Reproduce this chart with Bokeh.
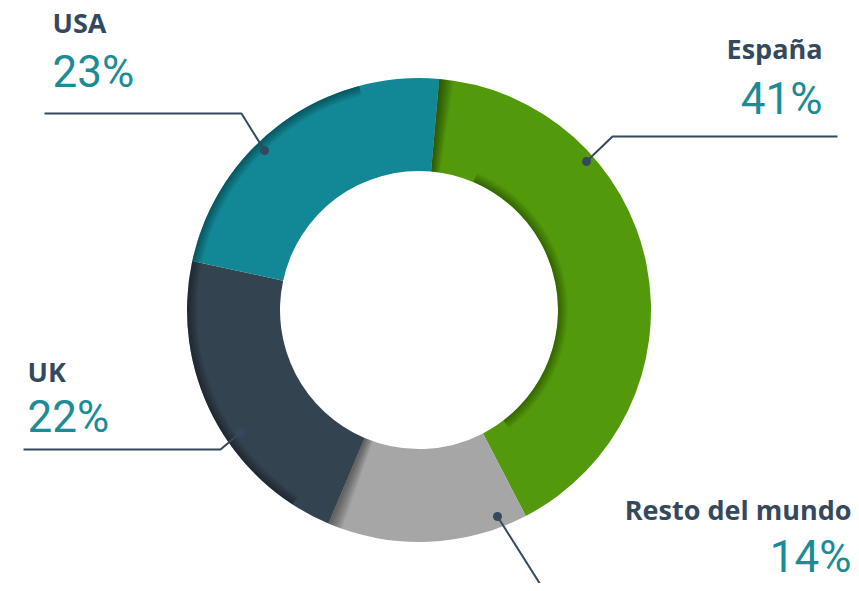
import numpy as np
from bokeh.plotting import figure
from bokeh.models import Range1d
from bokeh.core.properties import value
from bokeh.embed import file_html
from bokeh.resources import INLINE

# ---- data ----
categories = ["España", "Resto del mundo", "UK", "USA"]
shares = [41, 14, 22, 23]
labels = ["41%", "14%", "22%", "23%"]
colors = ["#529A0B", "#A6A6A6", "#33434F", "#128896"]

# ---- layout (pixel space; data y = H - pixel y) ----
W, H = 851, 583
def Y(py):
    return H - py

cx, cy = 418.5, Y(309.5)
R_OUT, R_IN = 232, 139
START = 5.0  # degrees clockwise from 12 o'clock

def m(theta):  # clockwise-from-top degrees -> math radians
    return np.deg2rad(90.0 - theta)

p = figure(width=W, height=H, x_range=Range1d(0, W), y_range=Range1d(0, H),
           x_axis_type=None, y_axis_type=None, output_backend="svg",
           toolbar_location=None, min_border=0)
p.outline_line_color = None
p.grid.visible = False
p.background_fill_color = "white"

cum = START + 3.6 * np.concatenate([[0], np.cumsum(shares)])
starts = cum[:-1]
ends = cum[1:]

p.annular_wedge(x=cx, y=cy, inner_radius=R_IN, outer_radius=R_OUT,
                start_angle=[m(e) for e in ends], end_angle=[m(s) for s in starts],
                direction="anticlock", fill_color=colors, line_color=None)

# ---- soft shading to mimic the 3D inner shadows ----
def radial_shadow(theta0, sign, n=9, step=0.4, alpha=0.055):
    for j in range(1, n + 1):
        a, b = theta0, theta0 + sign * step * j
        lo, hi = min(a, b), max(a, b)
        p.annular_wedge(x=cx, y=cy, inner_radius=R_IN, outer_radius=R_OUT,
                        start_angle=m(hi), end_angle=m(lo), direction="anticlock",
                        fill_color="black", fill_alpha=alpha, line_color=None)

def ring_shadow(t0, t1, r_edge, sign, n=10, step=1.0, alpha=0.035):
    for j in range(1, n + 1):
        r2 = r_edge + sign * step * j
        p.annular_wedge(x=cx, y=cy, inner_radius=min(r_edge, r2), outer_radius=max(r_edge, r2),
                        start_angle=m(t1), end_angle=m(t0), direction="anticlock",
                        fill_color="black", fill_alpha=alpha, line_color=None)

radial_shadow(starts[0], +1)                           # green, at its top edge
radial_shadow(ends[1], -1)                             # grey, at its left edge
ring_shadow(starts[0] + 18, ends[0] - 10, R_IN, +1)    # green inner edge
ring_shadow(ends[1] + 10, 345, R_OUT, -1, alpha=0.04)  # outer left edge of dark & teal

# ---- leader lines and dots (pixel coordinates of the layout) ----
line_col = "#34495E"
leaders = {
    "USA": ([264, 241, 44], [150, 113, 113]),
    "España": ([586, 612, 837], [161, 136, 136]),
    "UK": ([240, 220, 23], [432, 449, 449]),
    "Resto del mundo": ([497, 550], [516, 600]),
}
for name, (xs, ys) in leaders.items():
    p.line(x=xs, y=[Y(v) for v in ys], line_color=line_col, line_width=2)
    p.scatter(x=[xs[0]], y=[Y(ys[0])], size=9, fill_color=line_col, line_color=None)

# ---- labels ----
name_col = "#34495E"
pct_col = "#1B8C96"
label_pos = {
    # name: (x, name_baseline, pct_baseline, align)
    "España": (822, 48, 98, "right"),
    "Resto del mundo": (851, 509, 556, "right"),
    "UK": (27, 371, 416, "left"),
    "USA": (52, 22, 71, "left"),
}
for cat, lab in zip(categories, labels):
    x, nb, pb, al = label_pos[cat]
    p.text(x=[x], y=[Y(nb)], text=[cat], text_font=value("Open Sans"),
           text_font_style="bold", text_font_size="27px", text_color=name_col,
           text_align=al, text_baseline="alphabetic")
    p.text(x=[x], y=[Y(pb)], text=[lab], text_font=value("Roboto"),
           text_font_size="44px", text_color=pct_col,
           text_align=al, text_baseline="alphabetic")

open("out.html", "w").write(file_html(p, INLINE))
